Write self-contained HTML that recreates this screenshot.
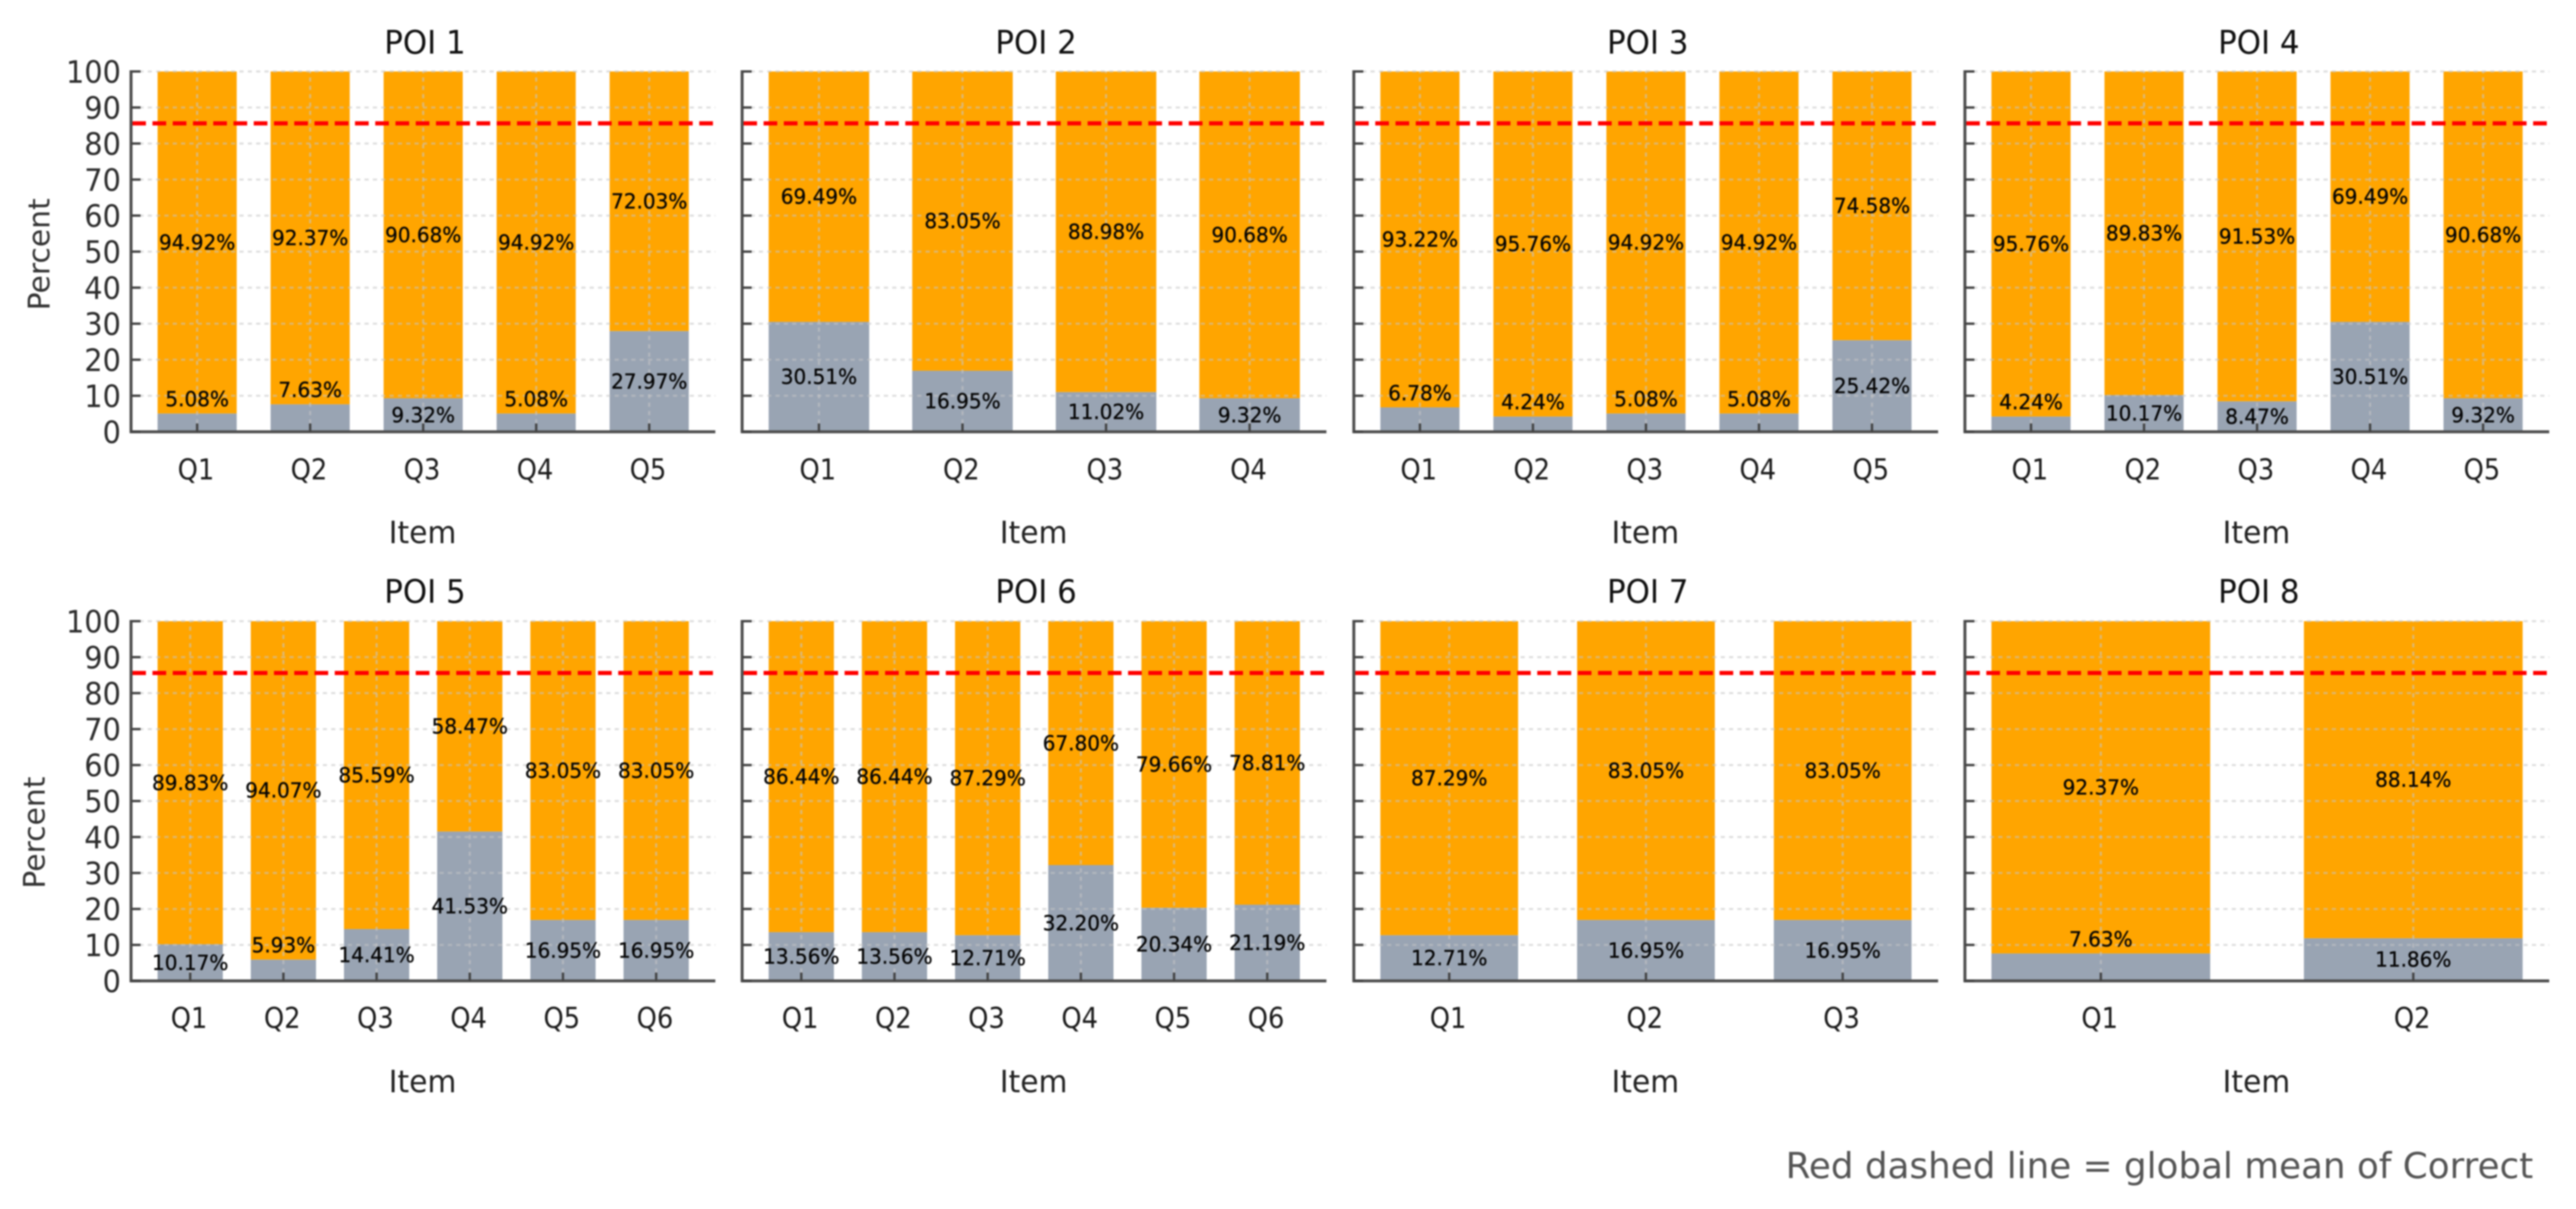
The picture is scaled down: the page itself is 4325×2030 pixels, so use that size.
<!DOCTYPE html>
<html lang="en">
<head>
<meta charset="utf-8">
<title>Correct and incorrect percentages by POI and item</title>
<style>
html,body{margin:0;padding:0;background:#fff;width:4325px;height:2030px;overflow:hidden}
svg{display:block;filter:blur(1.3px)}
text{font-family:"DejaVu Sans","Liberation Sans",sans-serif}
</style>
</head>
<body>
<svg id="chart" xmlns="http://www.w3.org/2000/svg" width="4325" height="2030" viewBox="0 0 4325 2030">
<rect x="0" y="0" width="4325" height="2030" fill="#ffffff"/>
</svg>
<script>
const panelTitles = ['POI 1','POI 2','POI 3','POI 4','POI 5','POI 6','POI 7','POI 8'];
const correctPoi1 = [94.92,92.37,90.68,94.92,72.03];
const correctPoi2 = [69.49,83.05,88.98,90.68];
const correctPoi3 = [93.22,95.76,94.92,94.92,74.58];
const correctPoi4 = [95.76,89.83,91.53,69.49,90.68];
const correctPoi5 = [89.83,94.07,85.59,58.47,83.05,83.05];
const correctPoi6 = [86.44,86.44,87.29,67.80,79.66,78.81];
const correctPoi7 = [87.29,83.05,83.05];
const correctPoi8 = [92.37,88.14];
const incorrectPoi1 = [5.08,7.63,9.32,5.08,27.97];
const incorrectPoi2 = [30.51,16.95,11.02,9.32];
const incorrectPoi3 = [6.78,4.24,5.08,5.08,25.42];
const incorrectPoi4 = [4.24,10.17,8.47,30.51,9.32];
const incorrectPoi5 = [10.17,5.93,14.41,41.53,16.95,16.95];
const incorrectPoi6 = [13.56,13.56,12.71,32.20,20.34,21.19];
const incorrectPoi7 = [12.71,16.95,16.95];
const incorrectPoi8 = [7.63,11.86];
const itemLabelsLong = ['Q1','Q2','Q3','Q4','Q5','Q6'];
const yTicks = [0,10,20,30,40,50,60,70,80,90,100];
const globalMean = 85.6;

const correctSeries = [correctPoi1,correctPoi2,correctPoi3,correctPoi4,correctPoi5,correctPoi6,correctPoi7,correctPoi8];
const incorrectSeries = [incorrectPoi1,incorrectPoi2,incorrectPoi3,incorrectPoi4,incorrectPoi5,incorrectPoi6,incorrectPoi7,incorrectPoi8];

const NS = 'http://www.w3.org/2000/svg';
const svg = document.getElementById('chart');
const PANEL_W = 981;
const lefts = [220,1246,2273,3299];
const rows = [
  {top:120, bottom:725, titleY:90, tickY:805, itemY:912, pctX:65, pctY:427},
  {top:1043, bottom:1647, titleY:1012, tickY:1726, itemY:1834, pctX:57, pctY:1398}
];
const ORANGE = '#FFA500', GREY = '#99A4B3';

function make(tag, attrs, parent) {
  const node = document.createElementNS(NS, tag);
  for (const k in attrs) node.setAttribute(k, attrs[k]);
  parent.appendChild(node);
  return node;
}
function label(parent, str, x, y, size, sx, anchor, color) {
  const t = make('text', {
    transform: 'translate(' + x + ',' + y + ') scale(' + sx + ',1)',
    'font-size': size, 'text-anchor': anchor, fill: color
  }, parent);
  t.textContent = str;
  return t;
}

correctSeries.forEach(function (correct, p) {
  const incorrect = incorrectSeries[p];
  const row = rows[p < 4 ? 0 : 1];
  const left = lefts[p % 4];
  const n = correct.length;
  const span = 1.1 * (n - 0.3);
  const xScale = function (v) { return left + PANEL_W * ((v + 0.35 + 0.05 * (n - 0.3)) / span); };
  const yScale = function (v) { return row.bottom - (row.bottom - row.top) * v / 100; };
  const barW = 0.7 * PANEL_W / span;

  const g = make('g', {}, svg);
  
  

  // bars
  correct.forEach(function (c, i) {
    const inc = incorrect[i];
    const cx = xScale(i);
    const barInc = make('rect', {x: cx - barW / 2, y: yScale(inc), width: barW, height: yScale(0) - yScale(inc), fill: GREY}, g);
    
    
    const barCor = make('rect', {x: cx - barW / 2, y: yScale(inc + c), width: barW, height: yScale(inc) - yScale(inc + c), fill: ORANGE}, g);
    
    
  });

  // grid
  yTicks.forEach(function (t) {
    const gl = make('line', {x1: left, x2: left + PANEL_W, y1: yScale(t), y2: yScale(t), stroke: '#c4c4c4', 'stroke-opacity': 0.55, 'stroke-width': 3.5, 'stroke-dasharray': '7 7'}, g);
    
    
  });
  correct.forEach(function (c, i) {
    const gv = make('line', {x1: xScale(i), x2: xScale(i), y1: yScale(0), y2: yScale(100), stroke: '#c4c4c4', 'stroke-opacity': 0.6, 'stroke-width': 3.5, 'stroke-dasharray': '7 7'}, g);
    
    
  });

  // mean line
  const mean = make('line', {x1: left + 2, x2: left + PANEL_W, y1: yScale(globalMean), y2: yScale(globalMean), stroke: '#FF0000', 'stroke-width': 7, 'stroke-dasharray': '23 11'}, g);
  
  

  // axes
  const yAxis = make('line', {x1: left, x2: left, y1: row.top - 2, y2: row.bottom + 2, stroke: '#505050', 'stroke-width': 5}, g);
  
  
  const xAxis = make('line', {x1: left - 2, x2: left + PANEL_W, y1: row.bottom, y2: row.bottom, stroke: '#505050', 'stroke-width': 5}, g);
  
  

  // y ticks
  yTicks.forEach(function (t) {
    const tk = make('line', {x1: left, x2: left + 16, y1: yScale(t), y2: yScale(t), stroke: '#444', 'stroke-width': 4}, g);
    
    
    if (p % 4 === 0) {
      const tl = label(g, String(t), left - 17, yScale(t) + 19, 52, 0.93, 'end', '#2c2c2c');
      
      
    }
  });

  // x ticks and labels
  correct.forEach(function (c, i) {
    const cx = xScale(i);
    const tk = make('line', {x1: cx, x2: cx, y1: row.bottom, y2: row.bottom - 14, stroke: '#444', 'stroke-width': 4}, g);
    
    
    const tl = label(g, itemLabelsLong[i], cx - 2, row.tickY, 48, 0.9, 'middle', '#1c1c1c');
    
    
  });

  // value labels
  correct.forEach(function (c, i) {
    const inc = incorrect[i];
    const cx = xScale(i);
    const incPos = inc < 8 ? inc + 4 : inc / 2;
    const li = label(g, inc.toFixed(2) + '%', cx, yScale(incPos) + 12, 35, 0.96, 'middle', '#050505');
    
    
    li.setAttribute('stroke', '#050505');
    li.setAttribute('stroke-width', '0.5');
    const lc = label(g, c.toFixed(2) + '%', cx, yScale(inc + c / 2) + 12, 35, 0.96, 'middle', '#050505');
    
    
    lc.setAttribute('stroke', '#050505');
    lc.setAttribute('stroke-width', '0.5');
  });

  // titles
  const title = label(g, panelTitles[p], left + PANEL_W / 2 + 3, row.titleY, 54, 0.96, 'middle', '#111');
  
  
  const itemT = label(g, 'Item', left + PANEL_W / 2 - 1, row.itemY, 52, 0.96, 'middle', '#222');
  
  
  if (p % 4 === 0) {
    const pct = make('text', {
      transform: 'translate(' + (row.pctX + 18) + ',' + row.pctY + ') rotate(-90)',
      'font-size': 50, 'text-anchor': 'middle', fill: '#333'
    }, g);
    pct.textContent = 'Percent';
    
    
  }
});

const foot = make('text', {x: 2998, y: 1978, 'font-size': 60, fill: '#555'}, svg);
foot.textContent = 'Red dashed line = global mean of Correct';


</script>
</body>
</html>
